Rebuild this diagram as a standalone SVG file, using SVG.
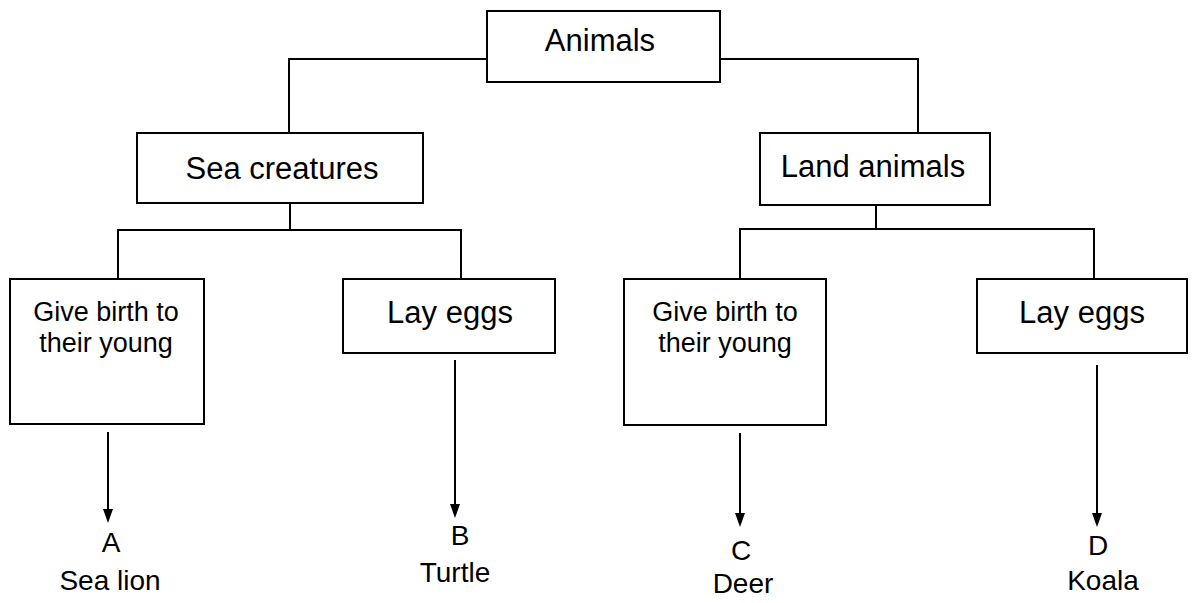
<svg xmlns="http://www.w3.org/2000/svg" width="1203" height="603" viewBox="0 0 1203 603">
<defs>
<style>
.box{fill:#fff;stroke:#000;stroke-width:2}
.ln{fill:none;stroke:#000;stroke-width:2}
.t{font-family:"Liberation Sans",Arial,sans-serif;font-size:28px;fill:#000;text-anchor:middle}
.big{font-size:31px}
.mid{font-size:27px}
</style>
</defs>
<rect width="1203" height="603" fill="#fff"/>
<g id="connectors">
<path class="ln" d="M487,59 H289 V133"/>
<path class="ln" d="M720,59 H918 V133"/>
<path class="ln" d="M290,203 V230 M118,279 V230 H461 V279"/>
<path class="ln" d="M876,205 V229 M740,279 V229 H1094 V279"/>
<path class="ln" d="M108,432 V509"/>
<path d="M103,509 L113,509 L108,523 Z"/>
<path class="ln" d="M455,360 V504"/>
<path d="M450,504 L460,504 L455,518 Z"/>
<path class="ln" d="M740,433 V513"/>
<path d="M735,513 L745,513 L740,527 Z"/>
<path class="ln" d="M1097,365 V513"/>
<path d="M1092,513 L1102,513 L1097,527 Z"/>
</g>
<g id="animals">
<rect class="box" x="487" y="11" width="233" height="71"/>
<text class="t big" x="600" y="51">Animals</text>
</g>
<g id="sea">
<rect class="box" x="137" y="133" width="286" height="70"/>
<text class="t big" x="282" y="179">Sea creatures</text>
</g>
<g id="land">
<rect class="box" x="760" y="133" width="230" height="72"/>
<text class="t big" x="873" y="177">Land animals</text>
</g>
<g id="birth1">
<rect class="box" x="10" y="279" width="194" height="145"/>
<text class="t mid" x="106" y="321">Give birth to</text>
<text class="t mid" x="106" y="352">their young</text>
</g>
<g id="eggs1">
<rect class="box" x="343" y="279" width="212" height="74"/>
<text class="t big" x="450" y="323">Lay eggs</text>
</g>
<g id="birth2">
<rect class="box" x="624" y="279" width="202" height="146"/>
<text class="t mid" x="725" y="321">Give birth to</text>
<text class="t mid" x="725" y="352">their young</text>
</g>
<g id="eggs2">
<rect class="box" x="977" y="279" width="210" height="74"/>
<text class="t big" x="1082" y="323">Lay eggs</text>
</g>
<g id="leaves">
<text class="t" x="111" y="552">A</text>
<text class="t" x="110" y="590">Sea lion</text>
<text class="t" x="460" y="545">B</text>
<text class="t" x="455" y="582">Turtle</text>
<text class="t" x="741" y="560">C</text>
<text class="t" x="743" y="593">Deer</text>
<text class="t" x="1098" y="555">D</text>
<text class="t" x="1103" y="590">Koala</text>
</g>
</svg>
